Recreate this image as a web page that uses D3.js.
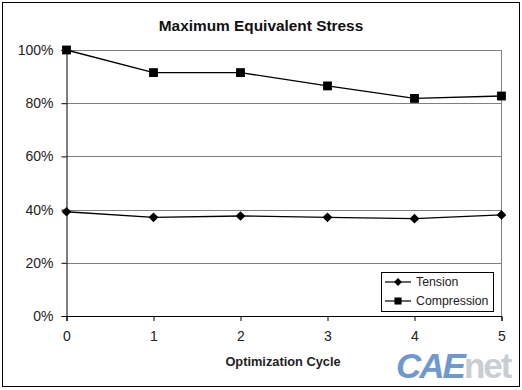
<!DOCTYPE html>
<html><head><meta charset="utf-8">
<script src="https://cdn.jsdelivr.net/npm/d3@7"></script>
<style>
html,body{margin:0;padding:0;background:#fff;}
svg{display:block;}
</style></head>
<body>
<svg id="chart" width="522" height="390"></svg>
<script>
const cycles = [0, 1, 2, 3, 4, 5];
const tension = [39.2, 37.1, 37.6, 37.1, 36.6, 38.0];
const compression = [100, 91.5, 91.5, 86.5, 81.8, 82.7];
const yTicks = [0, 20, 40, 60, 80, 100];
const seriesNames = ["Tension", "Compression"];
const title = "Maximum Equivalent Stress";
const xTitle = "Optimization Cycle";

const svg = d3.select("#chart");
const font = "Arial, 'Liberation Sans', sans-serif";

// outer border
svg.append("rect").attr("x", 2.5).attr("y", 2.5).attr("width", 517).attr("height", 384)
  .attr("fill", "#fff").attr("stroke", "#000").attr("stroke-width", 1);

const m = {left: 66.5, right: 501.5, top: 50, bottom: 316};
const x = d3.scaleLinear().domain([0, 5]).range([m.left, m.right]);
const y = d3.scaleLinear().domain([0, 100]).range([m.bottom, m.top]);

// gridlines
svg.append("g").selectAll("line").data(yTicks.filter(d => d > 0)).join("line")
  .attr("x1", m.left).attr("x2", m.right)
  .attr("y1", d => Math.round(y(d)) + 0.5).attr("y2", d => Math.round(y(d)) + 0.5)
  .attr("stroke", "#808080").attr("stroke-width", 1);
// right border of plot
svg.append("line").attr("x1", m.right).attr("x2", m.right).attr("y1", m.top).attr("y2", m.bottom)
  .attr("stroke", "#808080");

// axes
const yAxis = d3.axisLeft(y).tickValues(yTicks).tickFormat(d => d + "%").tickSize(5).tickPadding(8);
const gy = svg.append("g").attr("transform", `translate(${m.left},0)`).call(yAxis);
const xAxis = d3.axisBottom(x).tickValues(cycles).tickFormat(d3.format("d")).tickSize(5).tickPadding(10);
const gx = svg.append("g").attr("transform", `translate(0,${m.bottom})`).call(xAxis);
[gx, gy].forEach(g => {
  g.select(".domain").attr("stroke", "#000");
  g.selectAll(".tick line").attr("stroke", "#000");
  g.selectAll("text").attr("font-family", font).attr("font-size", 14).attr("fill", "#222");
});

// title
svg.append("text").attr("x", 261).attr("y", 31).attr("text-anchor", "middle")
  .attr("font-family", font).attr("font-weight", "bold").attr("font-size", 15.4).attr("fill", "#111")
  .text(title);
svg.append("text").attr("x", 283).attr("y", 366).attr("text-anchor", "middle")
  .attr("font-family", font).attr("font-weight", "bold").attr("font-size", 12.8).attr("fill", "#222")
  .text(xTitle);

// lines
const line = d3.line().x((d, i) => x(cycles[i])).y(d => y(d));
svg.append("path").datum(tension).attr("d", line).attr("fill", "none").attr("stroke", "#000").attr("stroke-width", 1.3);
svg.append("path").datum(compression).attr("d", line).attr("fill", "none").attr("stroke", "#000").attr("stroke-width", 1.3);

const diamond = d3.symbol().type(d3.symbolDiamond2).size(60);
const square = d3.symbol().type(d3.symbolSquare).size(78);
svg.append("g").selectAll("path").data(tension).join("path")
  .attr("d", diamond).attr("transform", (d, i) => `translate(${x(cycles[i])},${y(d)})`).attr("fill", "#000");
svg.append("g").selectAll("path").data(compression).join("path")
  .attr("d", square).attr("transform", (d, i) => `translate(${x(cycles[i])},${y(d)})`).attr("fill", "#000");

// legend
const lg = svg.append("g");
lg.append("rect").attr("x", 381.5).attr("y", 272.5).attr("width", 112).attr("height", 39)
  .attr("fill", "#fff").attr("stroke", "#000");
const legY = [282, 301];
const legMarkers = [d3.symbol().type(d3.symbolDiamond2).size(40)(), d3.symbol().type(d3.symbolSquare).size(50)()];
seriesNames.forEach((name, i) => {
  lg.append("line").attr("x1", 385).attr("x2", 411).attr("y1", legY[i]).attr("y2", legY[i]).attr("stroke", "#000").attr("stroke-width", 1.2);
  lg.append("path").attr("d", legMarkers[i])
    .attr("transform", `translate(398,${legY[i]})`).attr("fill", "#000");
  lg.append("text").attr("x", 416).attr("y", legY[i] + 4).attr("font-family", font).attr("font-size", 12.3).attr("fill", "#222").text(name);
});

// watermark
const wm = svg.append("text").attr("x", 396).attr("y", 378).attr("font-family", font)
  .attr("font-weight", "bold").attr("font-style", "italic").attr("font-size", 35).attr("letter-spacing", -2);
wm.append("tspan").attr("fill", "#6f98cf").text("CAE");
wm.append("tspan").attr("fill", "#c9ced4").attr("font-style", "normal").text("net");
</script>
</body></html>
